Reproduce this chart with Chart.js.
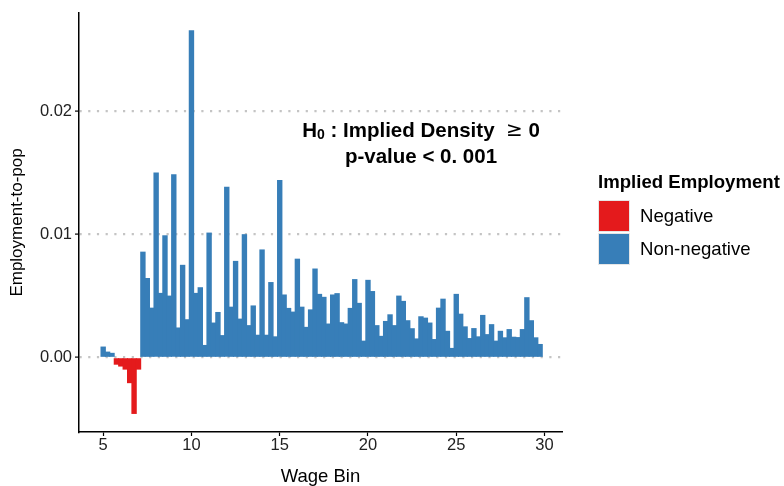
<!DOCTYPE html>
<html>
<head>
<meta charset="utf-8">
<script src="https://cdn.jsdelivr.net/npm/chart.js@4.4.0/dist/chart.umd.min.js"></script>
<style>
html, body { margin: 0; padding: 0; background: #fff; }
#wrap { width: 784px; height: 486px; }
</style>
</head>
<body>
<div id="wrap"><canvas id="grafico" width="784" height="486"></canvas></div>
<script>
// wage bins (bar centres) and implied employment-to-pop per bin
const wageBins = [
    5.00, 5.25, 5.50, 5.75, 6.00, 6.25, 6.50, 6.75, 7.00, 7.25,
    7.50, 7.75, 8.00, 8.25, 8.50, 8.75, 9.00, 9.25, 9.50, 9.75,
    10.00, 10.25, 10.50, 10.75, 11.00, 11.25, 11.50, 11.75, 12.00, 12.25,
    12.50, 12.75, 13.00, 13.25, 13.50, 13.75, 14.00, 14.25, 14.50, 14.75,
    15.00, 15.25, 15.50, 15.75, 16.00, 16.25, 16.50, 16.75, 17.00, 17.25,
    17.50, 17.75, 18.00, 18.25, 18.50, 18.75, 19.00, 19.25, 19.50, 19.75,
    20.00, 20.25, 20.50, 20.75, 21.00, 21.25, 21.50, 21.75, 22.00, 22.25,
    22.50, 22.75, 23.00, 23.25, 23.50, 23.75, 24.00, 24.25, 24.50, 24.75,
    25.00, 25.25, 25.50, 25.75, 26.00, 26.25, 26.50, 26.75, 27.00, 27.25,
    27.50, 27.75, 28.00, 28.25, 28.50, 28.75, 29.00, 29.25, 29.50, 29.75
];
const employment = [
    0.00086, 0.00045, 0.00035, -0.00055, -0.0007, -0.00095, -0.00205, -0.00455, -0.00095, 0.00857,
    0.00643, 0.00402, 0.0150, 0.00522, 0.0099, 0.0050, 0.01486, 0.00241, 0.0075, 0.00308,
    0.02656, 0.00522, 0.00568, 0.00099, 0.01012, 0.00281, 0.00367, 0.00179, 0.01384, 0.0041,
    0.00782, 0.00313, 0.00999, 0.0026, 0.0042, 0.00182, 0.00875, 0.00182, 0.0061, 0.00169,
    0.0144, 0.00509, 0.0040, 0.0037, 0.0080, 0.0041, 0.00246, 0.00388, 0.0072, 0.00514,
    0.0049, 0.00273, 0.00509, 0.0052, 0.00284, 0.00273, 0.0040, 0.00634, 0.00441, 0.00134,
    0.00628, 0.00537, 0.0026, 0.00173, 0.00294, 0.00348, 0.0026, 0.0050, 0.00457, 0.0030,
    0.00235, 0.00152, 0.00332, 0.00321, 0.00281, 0.00147, 0.00402, 0.00475, 0.00214, 0.00075,
    0.00514, 0.00353, 0.0025, 0.00155, 0.00236, 0.00169, 0.00343, 0.00187, 0.00268, 0.00134,
    0.00214, 0.00161, 0.00228, 0.00166, 0.00163, 0.00228, 0.00487, 0.0030, 0.00161, 0.00107
];
const xTicks = [5, 10, 15, 20, 25, 30];
const yTicks = [0, 0.01, 0.02];
const legendTitle = "Implied Employment";
const groups = ["Negative", "Non-negative"];
const groupColors = ["#E41A1C", "#377EB8"];

const FONT = "'Liberation Sans', Arial, Helvetica, sans-serif";

const negData = wageBins.map((x, i) => ({ x: x, y: employment[i] < 0 ? employment[i] : null }));
const posData = wageBins.map((x, i) => ({ x: x, y: employment[i] >= 0 ? employment[i] : null }));

// texto de la hipótesis y leyenda estilo ggplot
const extras = {
    id: "extras",
    afterDraw(chart) {
        const ctx = chart.ctx;
        ctx.save();
        ctx.fillStyle = "#000";
        ctx.textBaseline = "middle";

        // anotación
        const bold = "bold 20.5px " + FONT;
        const sub = "bold 14px " + FONT;
        const sym = "20px 'DejaVu Sans', " + FONT;
        const parts = [
            { t: "H", f: bold, dy: 0 },
            { t: "0", f: sub, dy: 4 },
            { t: " : Implied Density  ", f: bold, dy: 0 },
            { t: "\u2265", f: sym, dy: 0 },
            { t: " 0", f: bold, dy: 0 }
        ];
        let total = 0;
        parts.forEach(p => { ctx.font = p.f; p.w = ctx.measureText(p.t).width; total += p.w; });
        const cx = 421;
        let px = cx - total / 2;
        ctx.textAlign = "left";
        parts.forEach(p => { ctx.font = p.f; ctx.fillText(p.t, px, 131 + p.dy); px += p.w; });
        ctx.font = bold;
        ctx.textAlign = "center";
        ctx.fillText("p-value < 0. 001", cx, 157);

        // leyenda
        ctx.textAlign = "left";
        ctx.font = "bold 18.6px " + FONT;
        ctx.fillText(legendTitle, 598, 183);
        ctx.font = "18.6px " + FONT;
        groups.forEach((g, i) => {
            const y0 = 200 + i * 33;
            ctx.fillStyle = groupColors[i];
            ctx.fillRect(598, y0, 32, 32);
            ctx.strokeStyle = "#e6e6e6";
            ctx.lineWidth = 1;
            ctx.strokeRect(598.5, y0 + 0.5, 31, 31);
            ctx.fillStyle = "#000";
            ctx.fillText(g, 640, y0 + 17);
        });
        ctx.restore();
    }
};

const ctx = document.getElementById("grafico").getContext("2d");
new Chart(ctx, {
    type: "bar",
    data: {
        datasets: [
            { label: groups[0], data: negData, backgroundColor: groupColors[0], borderWidth: 0, inflateAmount: 0.4, grouped: false },
            { label: groups[1], data: posData, backgroundColor: groupColors[1], borderWidth: 0, inflateAmount: 0.4, grouped: false }
        ]
    },
    options: {
        responsive: false,
        animation: false,
        barPercentage: 1.04,
        categoryPercentage: 1,
        layout: { padding: { top: -4, right: 222, left: 0, bottom: 0 } },
        plugins: { legend: { display: false }, tooltip: { enabled: false } },
        scales: {
            x: {
                type: "linear",
                min: 3.63,
                max: 30.99,
                offset: false,
                afterBuildTicks: s => { s.ticks = xTicks.map(v => ({ value: v })); },
                afterFit: s => { s.height = 54; },
                grid: { offset: false, drawOnChartArea: false, drawTicks: true, tickLength: 4, tickColor: "#000", tickWidth: 1.2 },
                border: { color: "#000", width: 1.5 },
                ticks: { color: "#222", font: { family: FONT, size: 16.5 }, padding: 0, maxRotation: 0, callback: v => v },
                title: { display: true, text: "Wage Bin", color: "#000", font: { family: FONT, size: 18.5 }, padding: { top: 6, bottom: -2 } }
            },
            y: {
                min: -0.00605,
                max: 0.028,
                afterBuildTicks: s => { s.ticks = yTicks.map(v => ({ value: v })); },
                afterFit: s => { s.width = 79; },
                grid: { color: "#c4c4c4", lineWidth: 2.2, tickLength: 4, tickColor: "#000", tickWidth: 1.2, tickBorderDash: [] },
                border: { color: "#000", width: 1.5, dash: [2.2, 6.5] },
                ticks: { color: "#222", font: { family: FONT, size: 16.5 }, padding: 3, callback: v => v.toFixed(2) },
                title: { display: true, text: "Employment-to-pop", color: "#000", font: { family: FONT, size: 17 }, padding: { top: 7, bottom: 2 } }
            }
        }
    },
    plugins: [extras]
});
</script>
</body>
</html>
